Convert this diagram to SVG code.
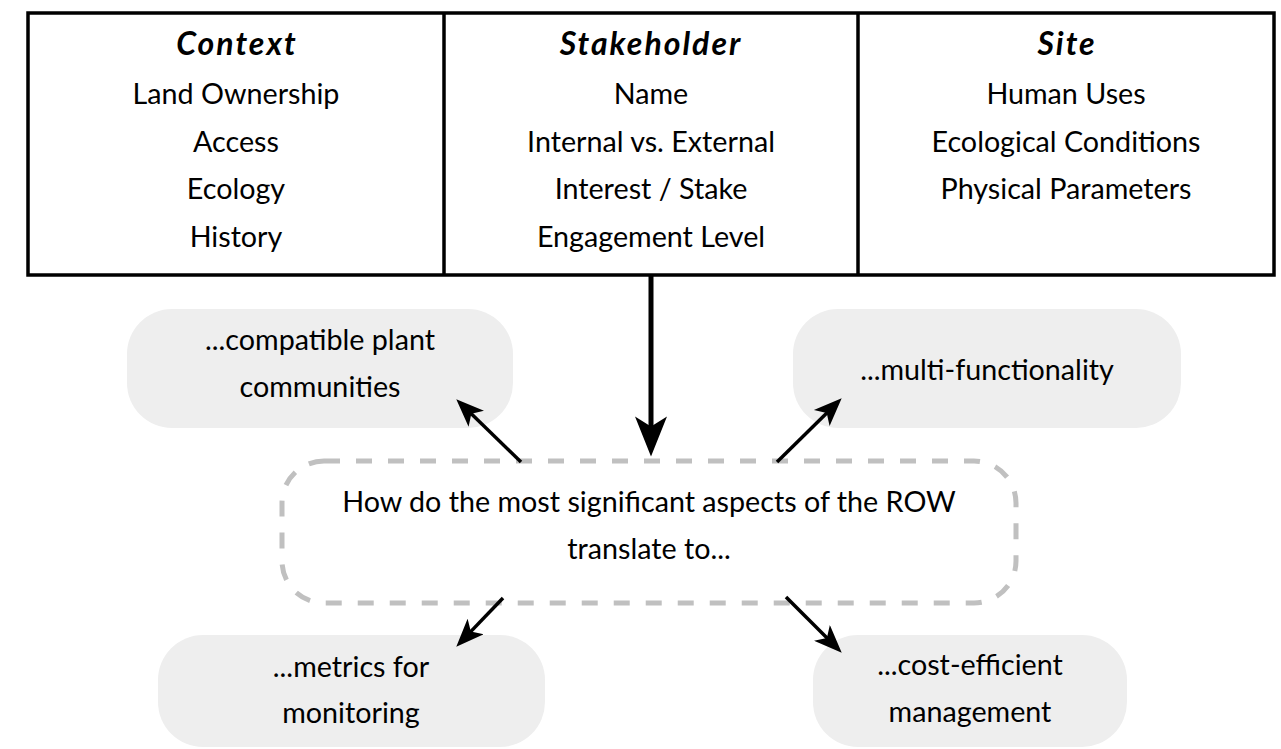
<svg xmlns="http://www.w3.org/2000/svg" width="1281" height="749" viewBox="0 0 1281 749">
  <style>
    .t { font-family: Lato, "Open Sans", "Liberation Sans", sans-serif; font-weight: 400; font-size: 28.7px; fill: #000; text-anchor: middle; }
    .h { font-family: Lato, "Open Sans", "Liberation Sans", sans-serif; font-weight: 700; font-style: italic; font-size: 32px; letter-spacing: 2px; fill: #000; text-anchor: middle; }
    .pill { fill: #eeeeee; }
    .frame { fill: none; stroke: #000; stroke-width: 3.5; }
    .arrow { stroke: #000; fill: none; marker-end: url(#head); }
  </style>
  <defs>
    <marker id="head" viewBox="0 0 10 8" refX="7" refY="4" markerWidth="8.4" markerHeight="6.4" markerUnits="strokeWidth" orient="auto">
      <path d="M0,0 L10,4 L0,8 L2.5,4 Z" fill="#000"/>
    </marker>
  </defs>

  <!-- three-column attribute table -->
  <g id="table">
    <rect class="frame" x="28" y="13" width="1246" height="262"/>
    <line class="frame" x1="444" y1="13" x2="444" y2="275"/>
    <line class="frame" x1="858" y1="13" x2="858" y2="275"/>
  </g>
  <g id="context">
    <text class="h" x="237" y="55">Context</text>
    <text class="t" x="236" y="104">Land Ownership</text>
    <text class="t" x="236" y="151.5">Access</text>
    <text class="t" x="236" y="199">Ecology</text>
    <text class="t" x="236" y="246.5">History</text>
  </g>
  <g id="stakeholder">
    <text class="h" x="651" y="55">Stakeholder</text>
    <text class="t" x="651" y="104">Name</text>
    <text class="t" x="651" y="151.5">Internal vs. External</text>
    <text class="t" x="651" y="199">Interest / Stake</text>
    <text class="t" x="651" y="246.5">Engagement Level</text>
  </g>
  <g id="site">
    <text class="h" x="1067" y="55">Site</text>
    <text class="t" x="1066" y="104">Human Uses</text>
    <text class="t" x="1066" y="151.5">Ecological Conditions</text>
    <text class="t" x="1066" y="199">Physical Parameters</text>
  </g>

  <!-- central question -->
  <g id="question">
    <rect x="282" y="461" width="734" height="142" rx="42" ry="42" fill="none" stroke="#c0c0c0" stroke-width="5" stroke-dasharray="16 16"/>
    <text class="t" x="649" y="512">How do the most significant aspects of the ROW</text>
    <text class="t" x="649" y="559">translate to...</text>
  </g>

  <!-- outcome pills -->
  <g id="plants">
    <rect class="pill" x="127" y="309" width="386" height="119" rx="45"/>
    <text class="t" x="320" y="350">...compatible plant</text>
    <text class="t" x="320" y="397">communities</text>
  </g>
  <g id="multifunction">
    <rect class="pill" x="793" y="309" width="388" height="119" rx="45"/>
    <text class="t" x="987" y="380">...multi-functionality</text>
  </g>
  <g id="metrics">
    <rect class="pill" x="158" y="635" width="387" height="112" rx="45"/>
    <text class="t" x="351" y="677">...metrics for</text>
    <text class="t" x="351" y="723">monitoring</text>
  </g>
  <g id="cost">
    <rect class="pill" x="813" y="635" width="314" height="112" rx="45"/>
    <text class="t" x="970" y="675">...cost-efficient</text>
    <text class="t" x="970" y="722">management</text>
  </g>

  <!-- connectors -->
  <g id="connectors">
    <line class="arrow" x1="651" y1="275" x2="651" y2="444.4" stroke-width="5"/>
    <line class="arrow" x1="521" y1="462" x2="462.3" y2="405.1" stroke-width="3.5"/>
    <line class="arrow" x1="777" y1="462" x2="835.7" y2="404.2" stroke-width="3.5"/>
    <line class="arrow" x1="503" y1="598" x2="462.1" y2="640.6" stroke-width="3.5"/>
    <line class="arrow" x1="786" y1="597" x2="835.8" y2="646.8" stroke-width="3.5"/>
  </g>
</svg>
